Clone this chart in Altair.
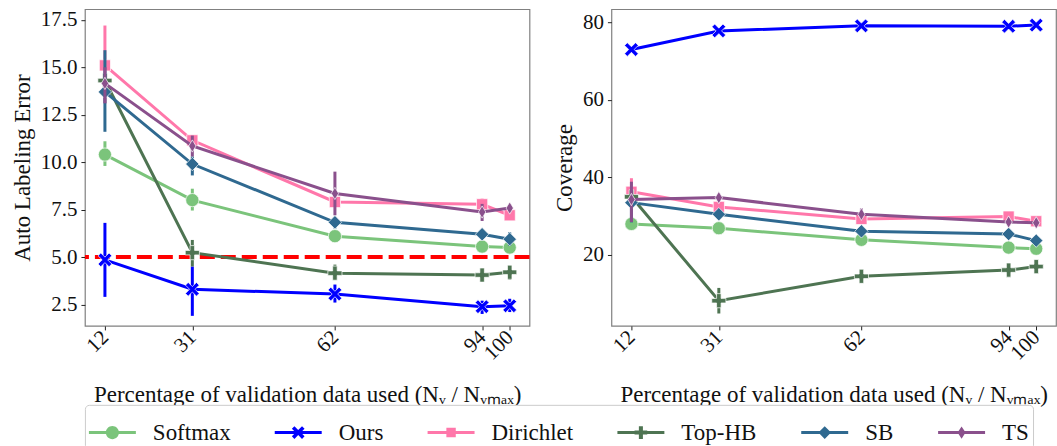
import altair as alt
import pandas as pd

# ---------------- data ----------------
pct = [12, 31, 62, 94, 100]
methods = ["Softmax", "Ours", "Dirichlet", "Top-HB", "SB", "TS"]
colors = ["#7bc47b", "#0000ff", "#ff77aa", "#4e7452", "#2f6990", "#8a508c"]

# Auto labeling error (mean, low, high)
err_softmax = [10.4, 8.0, 6.1, 5.55, 5.5]
err_softmax_lo = [9.8, 7.45, 6.1, 5.55, 5.5]
err_softmax_hi = [11.1, 8.6, 6.1, 5.55, 5.5]
err_ours = [4.85, 3.3, 3.05, 2.38, 2.43]
err_ours_lo = [2.9, 1.9, 2.6, 2.0, 2.1]
err_ours_hi = [6.8, 4.5, 3.55, 2.7, 2.8]
err_dirichlet = [15.1, 11.15, 7.9, 7.78, 7.2]
err_dirichlet_lo = [13.1, 10.8, 7.7, 7.4, 7.2]
err_dirichlet_hi = [17.2, 11.4, 8.1, 8.1, 7.2]
err_tophb = [14.3, 5.23, 4.15, 4.05, 4.2]
err_tophb_lo = [14.0, 4.5, 3.8, 3.7, 3.8]
err_tophb_hi = [14.7, 5.9, 4.6, 4.3, 4.5]
err_sb = [13.7, 9.9, 6.83, 6.2, 5.94]
err_sb_lo = [11.6, 9.3, 6.5, 6.2, 5.6]
err_sb_hi = [15.9, 10.3, 7.1, 6.2, 6.3]
err_ts = [14.15, 10.85, 8.35, 7.37, 7.58]
err_ts_lo = [13.1, 10.3, 7.2, 6.9, 7.58]
err_ts_hi = [15.0, 11.4, 9.5, 7.8, 7.58]

# Coverage (mean, low, high)
cov_softmax = [28.0, 26.9, 23.9, 21.9, 21.6]
cov_softmax_lo = [27.0, 26.0, 23.2, 21.2, 21.0]
cov_softmax_hi = [29.0, 27.8, 24.6, 22.6, 22.2]
cov_ours = [73.0, 77.8, 79.1, 79.0, 79.3]
cov_ours_lo = [73.0, 77.8, 79.1, 79.0, 79.3]
cov_ours_hi = [73.0, 77.8, 79.1, 79.0, 79.3]
cov_dirichlet = [36.3, 32.4, 29.3, 29.9, 28.7]
cov_dirichlet_lo = [33.5, 31.5, 28.6, 29.2, 28.0]
cov_dirichlet_hi = [39.8, 33.5, 30.0, 30.6, 29.4]
cov_tophb = [35.0, 8.2, 14.5, 16.1, 17.0]
cov_tophb_lo = [33.0, 4.9, 13.8, 15.3, 16.3]
cov_tophb_hi = [37.0, 11.5, 15.2, 16.9, 17.7]
cov_sb = [33.5, 30.5, 26.1, 25.4, 23.7]
cov_sb_lo = [28.4, 29.5, 25.4, 24.7, 23.0]
cov_sb_hi = [36.7, 31.5, 26.8, 26.1, 24.4]
cov_ts = [34.3, 34.8, 30.5, 28.5, 28.3]
cov_ts_lo = [28.5, 34.0, 29.2, 27.8, 27.6]
cov_ts_hi = [38.9, 35.6, 32.0, 29.2, 29.0]

threshold = [5.0]

series = {
    "Softmax": (err_softmax, err_softmax_lo, err_softmax_hi, cov_softmax, cov_softmax_lo, cov_softmax_hi),
    "Ours": (err_ours, err_ours_lo, err_ours_hi, cov_ours, cov_ours_lo, cov_ours_hi),
    "Dirichlet": (err_dirichlet, err_dirichlet_lo, err_dirichlet_hi, cov_dirichlet, cov_dirichlet_lo, cov_dirichlet_hi),
    "Top-HB": (err_tophb, err_tophb_lo, err_tophb_hi, cov_tophb, cov_tophb_lo, cov_tophb_hi),
    "SB": (err_sb, err_sb_lo, err_sb_hi, cov_sb, cov_sb_lo, cov_sb_hi),
    "TS": (err_ts, err_ts_lo, err_ts_hi, cov_ts, cov_ts_lo, cov_ts_hi),
}

rows = []
for m in methods:
    e, el, eh, c, cl, ch = series[m]
    for i, p in enumerate(pct):
        rows.append({"method": m, "pct": p, "err": e[i], "err_lo": el[i], "err_hi": eh[i],
                     "cov": c[i], "cov_lo": cl[i], "cov_hi": ch[i]})
df = pd.DataFrame(rows)

# ---------------- marker shapes ----------------
def poly(pts, sx=1.0, sy=None):
    sy = sx if sy is None else sy
    return "M" + "L".join(f"{x*sx:.3f},{y*sy:.3f}" for x, y in pts) + "Z"

X_PTS = [(-1, -0.6), (-0.6, -1), (0, -0.4), (0.6, -1), (1, -0.6), (0.4, 0),
         (1, 0.6), (0.6, 1), (0, 0.4), (-0.6, 1), (-1, 0.6), (-0.4, 0)]
PLUS_PTS = [(-0.32, -1), (0.32, -1), (0.32, -0.32), (1, -0.32), (1, 0.32), (0.32, 0.32),
            (0.32, 1), (-0.32, 1), (-0.32, 0.32), (-1, 0.32), (-1, -0.32), (-0.32, -0.32)]
DIA_PTS = [(0, -1), (1, 0), (0, 1), (-1, 0)]
SQ_PTS = [(-1, -1), (1, -1), (1, 1), (-1, 1)]

def circ(r):
    return f"M{-r},0A{r},{r} 0 1 1 {r},0A{r},{r} 0 1 1 {-r},0Z"

plot_shapes = ["circle", poly(X_PTS), "square", poly(PLUS_PTS), poly(DIA_PTS), poly(DIA_PTS, 0.6, 1.0)]
plot_sizes = [175, 190, 125, 200, 180, 150]

LINE = "M-1,-0.065H1V0.065H-1Z"
legend_shapes = [
    LINE + circ(0.28),
    LINE + poly(X_PTS, 0.27),
    LINE + poly(SQ_PTS, 0.2),
    LINE + poly(PLUS_PTS, 0.27),
    LINE + poly(DIA_PTS, 0.27),
    LINE + poly(DIA_PTS, 0.17, 0.26),
]

FONT = "Liberation Serif"
XTITLE = "Percentage of validation data used (Nᵥ / Nᵥₘₐₓ)"


def panel(col, ydomain, yvalues, yfmt, ytitle, extra_layers, front_layers):
    xenc = alt.X("pct:Q", scale=alt.Scale(domain=[7.65, 104.3], nice=False, zero=False),
                 axis=alt.Axis(values=pct, title=XTITLE, labelAngle=315, labelAlign="right",
                               labelBaseline="middle", labelOverlap=False, labelFont=FONT,
                               titleFont=FONT, titlePadding=20))
    yscale = alt.Scale(domain=ydomain, nice=False, zero=False)
    yaxis = alt.Axis(values=yvalues, format=yfmt, title=ytitle, labelFont=FONT, titleFont=FONT)
    layers = list(extra_layers)
    for m, c, shp, sz in zip(methods, colors, plot_shapes, plot_sizes):
        base = alt.Chart(df).transform_filter(alt.datum.method == m)
        layers.append(base.mark_line(color=c, strokeWidth=3).encode(
            x=xenc, y=alt.Y(f"{col}:Q", scale=yscale, axis=yaxis)))
        layers.append(base.mark_rule(color=c, strokeWidth=3).encode(
            x=xenc, y=alt.Y(f"{col}_lo:Q", scale=yscale, axis=yaxis), y2=f"{col}_hi:Q"))
        layers.append(base.mark_point(shape=shp, size=sz, filled=True, fill=c, stroke="white",
                                      strokeWidth=0.7, opacity=1).encode(
            x=xenc, y=alt.Y(f"{col}:Q", scale=yscale, axis=yaxis)))
    layers += list(front_layers)
    return alt.layer(*layers).properties(width=445, height=317)


red_line = alt.Chart(pd.DataFrame({"thr": threshold})).mark_rule(
    color="#ff0000", strokeWidth=4, strokeDash=[15, 6]).encode(
    y=alt.Y("thr:Q", scale=alt.Scale(domain=[1.37, 18.06], nice=False, zero=False),
            axis=alt.Axis(title="Auto Labeling Error")))

legend_layer = alt.Chart(df).transform_filter("false").mark_point(
    filled=True, opacity=1, size=2209, strokeWidth=0).encode(
    color=alt.Color("method:N", scale=alt.Scale(domain=methods, range=colors),
                    legend=alt.Legend(title=None)),
    shape=alt.Shape("method:N", scale=alt.Scale(domain=methods, range=legend_shapes),
                    legend=alt.Legend(title=None)),
)

left = panel("err", [1.37, 18.06], [2.5, 5.0, 7.5, 10.0, 12.5, 15.0, 17.5], ".1f",
             "Auto Labeling Error", [red_line], [legend_layer])
right = panel("cov", [1.7, 83.4], [20, 40, 60, 80], "d", "Coverage", [], [])

chart = alt.hconcat(left, right, spacing=20).properties(
    padding={"left": 10, "top": 8, "right": 0, "bottom": 0}
).configure_view(
    stroke="#808080", strokeWidth=1.2
).configure_axis(
    domain=False, grid=False, tickColor="#222", tickSize=4, tickWidth=1,
    labelFont=FONT, labelFontSize=21, labelColor="#111", labelPadding=4,
    titleFont=FONT, titleFontSize=23, titleFontWeight="normal", titleColor="#111",
).configure_axisY(titlePadding=6).configure_legend(
    orient="none", legendX=0, legendY=396, direction="horizontal", columns=6,
    symbolSize=2209, symbolStrokeWidth=0, labelFont=FONT, labelFontSize=23, labelColor="#111",
    labelOffset=17, columnPadding=44, strokeColor="#cccccc", cornerRadius=4,
    padding=4, fillColor="white",
)

chart.save("out.html", embed_options={"renderer": "svg", "actions": False})
